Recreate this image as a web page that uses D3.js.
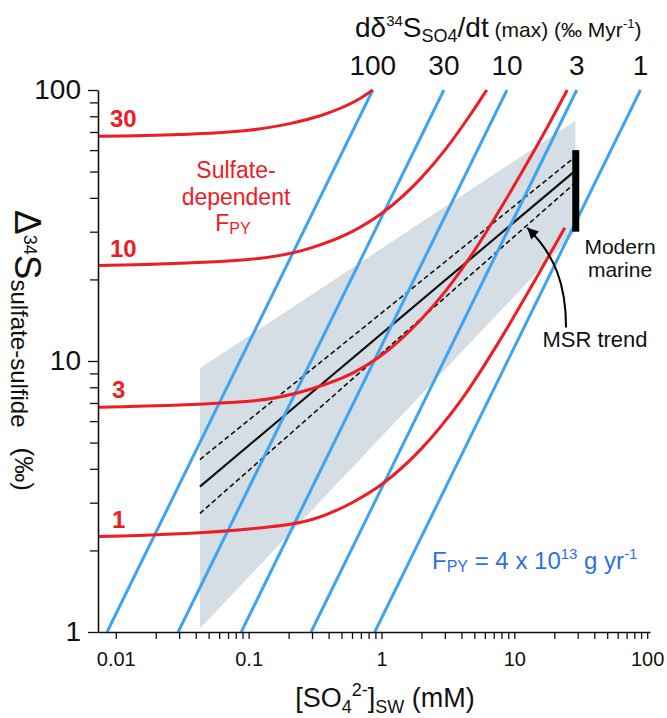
<!DOCTYPE html>
<html>
<head>
<meta charset="utf-8">
<script src="https://cdn.jsdelivr.net/npm/d3@7/dist/d3.min.js"></script>
<style>
  body { margin: 0; background: #fff; }
  svg text { font-family: "Liberation Sans", Arial, sans-serif; }
</style>
</head>
<body>
<script>
// --- data ---
// max rate of change of d34S of seawater sulfate (permil / Myr)
const rates = [100, 30, 10, 3, 1];
// [SO4] (mM) where each rate line sits at Delta = 1 and at Delta = 100
const rateLow = [0.0086, 0.0295, 0.088, 0.295, 0.89];
const rateHigh = [0.86, 2.95, 8.8, 29.5, 89];

// sulfate-dependent FPY curves, [SO4 mM, Delta permil]
const fpyLabels = ["30", "10", "3", "1"];
const fpy30 = [[0.0074, 67.5], [0.03, 68.5], [0.1, 71], [0.2, 75], [0.35, 80.5], [0.5, 86], [0.7, 93.5], [0.86, 100]];
const fpy10 = [[0.0074, 22.5], [0.1, 23.7], [0.3, 26.2], [0.6, 30], [1, 35], [2, 47.5], [3, 60], [4.5, 79], [6.2, 100]];
const fpy3 = [[0.0074, 6.75], [0.1, 7.1], [0.3, 7.9], [0.6, 9], [1, 10.5], [2, 14.3], [3, 18], [5, 25.5], [8, 37], [12, 52], [18, 74], [25, 100]];
const fpy1 = [[0.0074, 2.25], [0.1, 2.4], [0.3, 2.6], [0.6, 3], [1, 3.5], [2, 4.75], [4, 7.2], [8, 12.2], [14, 19.5], [24, 31]];

// MSR trend (solid) and its envelope (dashed)
const msrX = [0.043, 28.5];
const msrMid = [3.44, 50.2];
const msrUpper = [4.33, 56.5];
const msrLower = [2.74, 45.3];

// grey field
const fieldX = [0.043, 28.8, 28.8, 0.043];
const fieldY = [9.4, 77, 30, 1.03];

// modern marine bar
const modernX = 29;
const modernY = [30, 60];

const xTickVals = [0.01,0.02,0.03,0.04,0.05,0.06,0.07,0.08,0.09,
                   0.1,0.2,0.3,0.4,0.5,0.6,0.7,0.8,0.9,
                   1,2,3,4,5,6,7,8,9,
                   10,20,30,40,50,60,70,80,90,100];
const xTickLabels = {0.01: "0.01", 0.1: "0.1", 1: "1", 10: "10", 100: "100"};
const yTickVals = [1,2,3,4,5,6,7,8,9,10,20,30,40,50,60,70,80,90,100];
const yTickLabels = {1: "1", 10: "10", 100: "100"};

// --- layout ---
const W = 667, H = 718;
const blue = "#3ea4f0", red = "#ee1c24", ink = "#111";

const svg = d3.select("body").append("svg")
              .attr("width", W)
              .attr("height", H);

let x = d3.scaleLog().domain([0.00735, 105]).range([98, 650]);
let y = d3.scaleLog().domain([1, 100]).range([632, 90]);

// grey field
svg.append("path")
   .attr("d", d3.line()(fieldX.map((d, i) => [x(d), y(fieldY[i])])) + "Z")
   .attr("fill", "#d4dee4");

// MSR trend + envelope
const msr = (vals) => d3.line()(msrX.map((d, i) => [x(d), y(vals[i])]));
svg.append("path").attr("d", msr(msrUpper))
   .attr("fill", "none").attr("stroke", ink).attr("stroke-width", 1.6).attr("stroke-dasharray", "5,3");
svg.append("path").attr("d", msr(msrLower))
   .attr("fill", "none").attr("stroke", ink).attr("stroke-width", 1.6).attr("stroke-dasharray", "5,3");
svg.append("path").attr("d", msr(msrMid))
   .attr("fill", "none").attr("stroke", ink).attr("stroke-width", 2.2);

// constant-rate lines
svg.append("g").selectAll("line")
   .data(rates)
   .join("line")
   .attr("x1", (d, i) => x(rateLow[i]))
   .attr("y1", y(1))
   .attr("x2", (d, i) => x(rateHigh[i]))
   .attr("y2", y(100))
   .attr("stroke", blue)
   .attr("stroke-width", 3);

// sulfate-dependent curves
const curve = d3.line().x(d => x(d[0])).y(d => y(d[1])).curve(d3.curveMonotoneX);
const fpyCurves = [fpy30, fpy10, fpy3, fpy1];
svg.append("g").selectAll("path")
   .data(fpyCurves)
   .join("path")
   .attr("d", curve)
   .attr("fill", "none")
   .attr("stroke", red)
   .attr("stroke-width", 3);

svg.append("g").selectAll("text")
   .data(fpyCurves)
   .join("text")
   .attr("x", (d, i) => i < 2 ? 110 : 112)
   .attr("y", d => y(d[0][1]) - 9)
   .attr("fill", red)
   .attr("font-weight", "bold")
   .attr("font-size", 24)
   .text((d, i) => fpyLabels[i]);

// modern marine bar
svg.append("line")
   .attr("x1", x(modernX)).attr("x2", x(modernX))
   .attr("y1", y(modernY[0])).attr("y2", y(modernY[1]))
   .attr("stroke", "#000")
   .attr("stroke-width", 7);

// axes
let xAxis = svg.append("g")
               .attr("transform", `translate(0,${y(1)})`)
               .call(d3.axisBottom(x)
                       .tickValues(xTickVals)
                       .tickSize(7)
                       .tickSizeOuter(0)
                       .tickFormat(d => xTickLabels[d] || ""));
xAxis.select(".domain").attr("stroke", ink).attr("stroke-width", 1.6);
xAxis.selectAll(".tick line").attr("stroke", ink).attr("stroke-width", 1.3);
xAxis.selectAll(".tick text")
     .attr("y", 20)
     .attr("font-size", 20)
     .attr("font-family", "Liberation Sans, Arial, sans-serif")
     .attr("fill", ink);

let yAxis = svg.append("g")
               .attr("transform", `translate(${x.range()[0]},0)`)
               .call(d3.axisLeft(y)
                       .tickValues(yTickVals)
                       .tickSize(8)
                       .tickSizeOuter(0)
                       .tickFormat(d => yTickLabels[d] || ""));
yAxis.select(".domain").attr("stroke", ink).attr("stroke-width", 1.6);
yAxis.selectAll(".tick line").attr("stroke", ink).attr("stroke-width", 1.3)
     .filter(d => yTickLabels[d]).attr("x2", -10);
yAxis.selectAll(".tick text")
     .attr("x", -17)
     .attr("font-size", 28)
     .attr("font-family", "Liberation Sans, Arial, sans-serif")
     .attr("fill", ink);

// rate labels along the top
svg.append("g").selectAll("text")
   .data(rates)
   .join("text")
   .attr("x", (d, i) => x(rateHigh[i]))
   .attr("y", 75)
   .attr("text-anchor", "middle")
   .attr("font-size", 28)
   .attr("fill", ink)
   .text(d => d);

// top title
let title = svg.append("text").attr("x", 355).attr("y", 37).attr("fill", ink).attr("font-size", 28);
title.append("tspan").text("dδ");
title.append("tspan").attr("font-size", 15).attr("dy", -11).text("34");
title.append("tspan").attr("dy", 11).text("S");
title.append("tspan").attr("font-size", 18).attr("dy", 5).text("SO4");
title.append("tspan").attr("dy", -5).text("/dt");
title.append("tspan").attr("font-size", 21).text(" (max) (‰ Myr");
title.append("tspan").attr("font-size", 13).attr("dy", -9).text("-1");
title.append("tspan").attr("font-size", 21).attr("dy", 9).text(")");

// x title
let xt = svg.append("text").attr("x", 385).attr("y", 707).attr("text-anchor", "middle")
            .attr("fill", ink).attr("font-size", 27);
xt.append("tspan").text("[SO");
xt.append("tspan").attr("font-size", 18).attr("dy", 6).text("4");
xt.append("tspan").attr("font-size", 18).attr("dy", -17).text("2-");
xt.append("tspan").attr("dy", 11).text("]");
xt.append("tspan").attr("font-size", 18).attr("dy", 6).text("SW");
xt.append("tspan").attr("dy", -6).text(" (mM)");

// y title, reads top to bottom
let yt = svg.append("text").attr("transform", "translate(15,210) rotate(90)")
            .attr("fill", ink).attr("font-size", 37);
yt.append("tspan").text("Δ");
yt.append("tspan").attr("font-size", 18).attr("dy", -9).text("34");
yt.append("tspan").attr("dy", 9).text("S");
yt.append("tspan").attr("font-size", 24).attr("dy", 4).text("sulfate-sulfide");
yt.append("tspan").attr("font-size", 26).attr("dy", -4).attr("dx", 20).text("(‰)");

// red annotation
const sulfLines = ["Sulfate-", "dependent"];
svg.append("g").selectAll("text")
   .data(sulfLines)
   .join("text")
   .attr("x", 236)
   .attr("y", (d, i) => 178 + i * 27)
   .attr("text-anchor", "middle")
   .attr("font-size", 23)
   .attr("fill", red)
   .text(d => d);
let fpyT = svg.append("text").attr("x", 233).attr("y", 231).attr("text-anchor", "middle")
              .attr("font-size", 23).attr("fill", red);
fpyT.append("tspan").text("F");
fpyT.append("tspan").attr("font-size", 16).attr("dy", 3).text("PY");

// blue flux annotation
let fluxT = svg.append("text").attr("x", 432).attr("y", 569).attr("font-size", 24).attr("fill", "#2f6fe4");
fluxT.append("tspan").text("F");
fluxT.append("tspan").attr("font-size", 16).attr("dy", 3).text("PY");
fluxT.append("tspan").attr("dy", -3).text(" = 4 x 10");
fluxT.append("tspan").attr("font-size", 15).attr("dy", -10).text("13");
fluxT.append("tspan").attr("dy", 10).text(" g yr");
fluxT.append("tspan").attr("font-size", 15).attr("dy", -10).text("-1");

// modern marine + MSR trend labels
svg.append("g").selectAll("text")
   .data(["Modern", "marine"])
   .join("text")
   .attr("x", 620)
   .attr("y", (d, i) => 254 + i * 23)
   .attr("text-anchor", "middle")
   .attr("font-size", 21)
   .attr("fill", ink)
   .text(d => d);
svg.append("text")
   .attr("x", 595).attr("y", 347)
   .attr("text-anchor", "middle")
   .attr("font-size", 22)
   .attr("fill", ink)
   .text("MSR trend");

// curved arrow pointing at the trend line
svg.append("defs").append("marker")
   .attr("id", "head")
   .attr("viewBox", "0 0 10 10")
   .attr("refX", 10).attr("refY", 5)
   .attr("markerUnits", "userSpaceOnUse")
   .attr("markerWidth", 13).attr("markerHeight", 11)
   .attr("orient", "auto")
   .append("path").attr("d", "M0,0L10,5L0,10Z").attr("fill", "#000");
const arrowPts = [[24.5, 13.3], [24.5, 19.1], [20.3, 24.6], [12.5, 31]];
const ap = d3.path();
ap.moveTo(x(arrowPts[0][0]), y(arrowPts[0][1]));
ap.bezierCurveTo(x(arrowPts[1][0]), y(arrowPts[1][1]),
                 x(arrowPts[2][0]), y(arrowPts[2][1]),
                 x(arrowPts[3][0]), y(arrowPts[3][1]));
svg.append("path")
   .attr("d", ap.toString())
   .attr("fill", "none")
   .attr("stroke", "#000")
   .attr("stroke-width", 2)
   .attr("marker-end", "url(#head)");
</script>
</body>
</html>
